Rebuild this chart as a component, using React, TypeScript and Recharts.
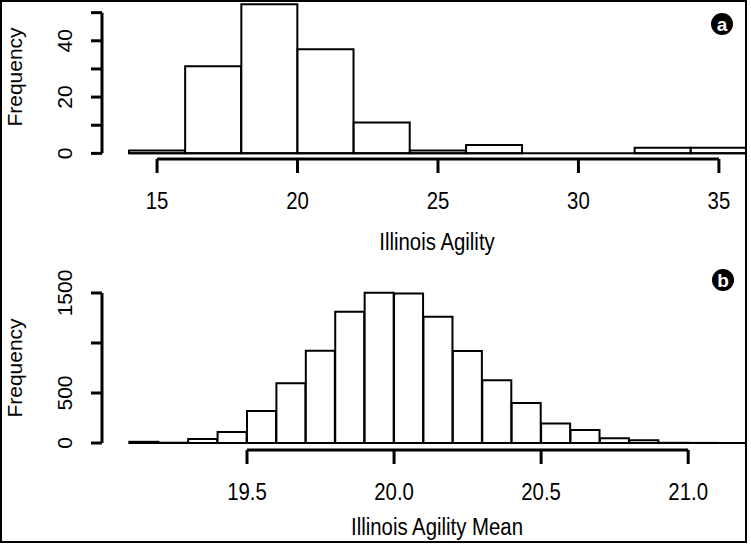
import React from 'react';
import { BarChart, Bar, XAxis, YAxis, ReferenceLine } from 'recharts';

// ---- Panel a: Illinois Agility ----
const agilityBinStarts = [14, 16, 18, 20, 22, 24, 26, 28, 30, 32, 34];
const agilityCounts = [1, 31, 53, 37, 11, 1, 3, 0, 0, 2, 2];
const agilityBinWidth = 2;
const agilityXTicks = [15, 20, 25, 30, 35];
const agilityYTicks = [0, 10, 20, 30, 40, 50];
const agilityYLabels = [0, 20, 40];

// ---- Panel b: Illinois Agility Mean ----
const meanBinStarts = [
  19.1, 19.2, 19.3, 19.4, 19.5, 19.6, 19.7, 19.8, 19.9, 20.0, 20.1,
  20.2, 20.3, 20.4, 20.5, 20.6, 20.7, 20.8, 20.9, 21.0, 21.1,
];
const meanCounts = [
  12, 3, 40, 110, 320, 598, 922, 1312, 1502, 1495, 1262,
  921, 628, 400, 196, 130, 48, 28, 2, 1, 0,
];
const meanBinWidth = 0.1;
const meanXTicks = [19.5, 20.0, 20.5, 21.0];
const meanYTicks = [0, 500, 1000, 1500];
const meanYLabels = [0, 500, 1500];

const buildBins = (starts: number[], counts: number[], w: number) =>
  starts.map((s, i) => ({ mid: +(s + w / 2).toFixed(4), count: counts[i] }));

const agilityData = buildBins(agilityBinStarts, agilityCounts, agilityBinWidth);
const meanData = buildBins(meanBinStarts, meanCounts, meanBinWidth);

const FONT = '"Liberation Sans", Arial, Helvetica, sans-serif';
const FS = 21;
const STRETCH = 1.15;

const W = 751;
const H = 544;

const HText = ({ x, y, children, size = FS }: any) => (
  <text
    x={0}
    y={0}
    transform={`translate(${x}, ${y}) scale(0.97, ${STRETCH})`}
    textAnchor="middle"
    fontFamily={FONT}
    fontSize={size}
    fill="#000"
  >
    {children}
  </text>
);

const RotYTick = (props: any) => {
  const { x, y, payload, labels } = props;
  if (!labels.includes(payload.value)) return <g />;
  const bx = x - 17;
  return (
    <text
      x={bx}
      y={y}
      transform={`rotate(-90, ${bx}, ${y})`}
      textAnchor="middle"
      fontFamily={FONT}
      fontSize={FS}
      fill="#000"
    >
      {payload.value}
    </text>
  );
};

const XTick = (props: any) => {
  const { x, y, payload, fmt } = props;
  return <HText x={x} y={y + 34}>{fmt(payload.value)}</HText>;
};

const axisStroke = { stroke: '#000', strokeWidth: 3 };

export default function App() {
  const aXMin = 13.04;
  const aXMax = 36;
  const aYMin = -2;
  const aYMax = 54.5;

  const bXMin = 19.007;
  const bXMax = 21.2;
  const bYMin = -70;
  const bYMax = 1730;

  return (
    <div
      style={{
        position: 'absolute',
        left: 0,
        top: 0,
        width: W,
        height: H,
        background: '#fff',
        overflow: 'hidden',
      }}
    >
      {/* Panel a */}
      <div style={{ position: 'absolute', left: 0, top: 0 }}>
        <BarChart
          width={W}
          height={H}
          data={agilityData}
          margin={{ top: 0, right: 4, bottom: 325, left: 0 }}
          barCategoryGap={0}
          barGap={0}
        >
          <XAxis
            type="number"
            dataKey="mid"
            domain={[aXMin, aXMax]}
            ticks={agilityXTicks}
            interval={0}
            axisLine={false}
            tickLine={axisStroke}
            tickSize={14}
            tickMargin={2}
            height={60}
            allowDataOverflow
            tick={(p: any) => <XTick {...p} fmt={(v: number) => String(v)} />}
          />
          <YAxis
            type="number"
            domain={[aYMin, aYMax]}
            ticks={agilityYTicks}
            interval={0}
            axisLine={false}
            tickLine={axisStroke}
            tickSize={11}
            tickMargin={2}
            width={102}
            allowDataOverflow
            tick={(p: any) => <RotYTick {...p} labels={agilityYLabels} />}
          />
          <ReferenceLine
            segment={[
              { x: agilityBinStarts[0], y: 0 },
              { x: aXMax, y: 0 },
            ]}
            stroke="#000"
            strokeWidth={2}
            ifOverflow="visible"
          />
          <Bar
            dataKey="count"
            fill="#fff"
            stroke="#000"
            strokeWidth={2}
            isAnimationActive={false}
          />
          <ReferenceLine
            segment={[
              { x: agilityXTicks[0], y: aYMin },
              { x: agilityXTicks[agilityXTicks.length - 1], y: aYMin },
            ]}
            stroke="#000"
            strokeWidth={3}
            ifOverflow="visible"
          />
          <ReferenceLine
            segment={[
              { x: aXMin, y: agilityYTicks[0] },
              { x: aXMin, y: agilityYTicks[agilityYTicks.length - 1] },
            ]}
            stroke="#000"
            strokeWidth={3}
            ifOverflow="visible"
          />
        </BarChart>
      </div>

      {/* Panel b */}
      <div style={{ position: 'absolute', left: 0, top: 0 }}>
        <BarChart
          width={W}
          height={H}
          data={meanData}
          margin={{ top: 270, right: 4, bottom: 34, left: 0 }}
          barCategoryGap={0}
          barGap={0}
        >
          <XAxis
            type="number"
            dataKey="mid"
            domain={[bXMin, bXMax]}
            ticks={meanXTicks}
            interval={0}
            axisLine={false}
            tickLine={axisStroke}
            tickSize={14}
            tickMargin={2}
            height={60}
            allowDataOverflow
            tick={(p: any) => <XTick {...p} fmt={(v: number) => v.toFixed(1)} />}
          />
          <YAxis
            type="number"
            domain={[bYMin, bYMax]}
            ticks={meanYTicks}
            interval={0}
            axisLine={false}
            tickLine={axisStroke}
            tickSize={11}
            tickMargin={2}
            width={102}
            allowDataOverflow
            tick={(p: any) => <RotYTick {...p} labels={meanYLabels} />}
          />
          <ReferenceLine
            segment={[
              { x: meanBinStarts[0], y: 0 },
              { x: bXMax, y: 0 },
            ]}
            stroke="#000"
            strokeWidth={2}
            ifOverflow="visible"
          />
          <Bar
            dataKey="count"
            fill="#fff"
            stroke="#000"
            strokeWidth={2}
            isAnimationActive={false}
          />
          <ReferenceLine
            segment={[
              { x: meanXTicks[0], y: bYMin },
              { x: meanXTicks[meanXTicks.length - 1], y: bYMin },
            ]}
            stroke="#000"
            strokeWidth={3}
            ifOverflow="visible"
          />
          <ReferenceLine
            segment={[
              { x: bXMin, y: meanYTicks[0] },
              { x: bXMin, y: meanYTicks[meanYTicks.length - 1] },
            ]}
            stroke="#000"
            strokeWidth={3}
            ifOverflow="visible"
          />
        </BarChart>
      </div>

      {/* Titles, badges, frame */}
      <svg
        width={W}
        height={H}
        style={{ position: 'absolute', left: 0, top: 0, pointerEvents: 'none' }}
      >
        <text
          x={14}
          y={77}
          transform="rotate(-90, 14, 77)"
          textAnchor="middle"
          dominantBaseline="central"
          fontFamily={FONT}
          fontSize={FS}
          fill="#000"
        >
          Frequency
        </text>
        <text
          x={14}
          y={368}
          transform="rotate(-90, 14, 368)"
          textAnchor="middle"
          dominantBaseline="central"
          fontFamily={FONT}
          fontSize={FS}
          fill="#000"
        >
          Frequency
        </text>
        <HText x={437} y={250}>Illinois Agility</HText>
        <HText x={437} y={535}>Illinois Agility Mean</HText>
        <circle cx={722} cy={24} r={11} fill="#000" />
        <text
          x={722}
          y={30.5}
          textAnchor="middle"
          fontFamily={FONT}
          fontSize={19}
          fontWeight="bold"
          fill="#fff"
        >
          a
        </text>
        <circle cx={723} cy={280} r={11} fill="#000" />
        <text
          x={723}
          y={287}
          textAnchor="middle"
          fontFamily={FONT}
          fontSize={19}
          fontWeight="bold"
          fill="#fff"
        >
          b
        </text>
        <rect x={1} y={1} width={745} height={541} fill="none" stroke="#000" strokeWidth={2} />
      </svg>
    </div>
  );
}
